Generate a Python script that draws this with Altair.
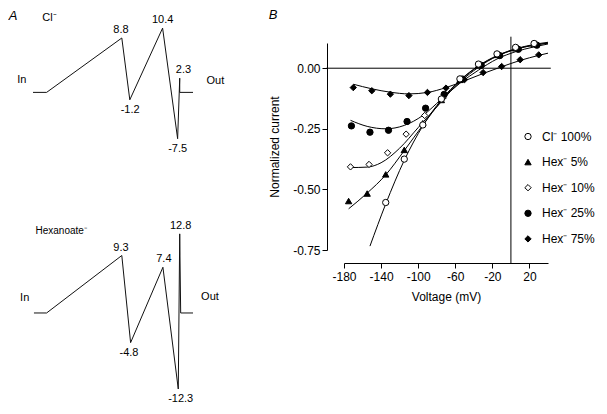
import altair as alt
import pandas as pd

FONT = "Liberation Sans"

# ---------------- Panel A: energy profiles ----------------
a_pos_top = [0, 8.5, 55.5, 60.5, 81, 90.4, 91.7, 91.7, 100]
a_energy_top = [0, 0, 8.8, -1.2, 10.4, -7.5, 2.3, 0, 0]
a_pos_bot = [0.6, 8.5, 55.5, 61, 81.2, 90.8, 91.7, 92.3, 100]
a_energy_bot = [0, 0, 9.3, -4.8, 7.4, -12.3, 12.8, 0, 0]

lbl_text_top = ["8.8", "-1.2", "10.4", "-7.5", "2.3"]
lbl_val_top = [8.8, -1.2, 10.4, -7.5, 2.3]
lbl_pos_top = [55.0, 60.7, 81.0, 90.4, 94.0]
lbl_text_bot = ["9.3", "-4.8", "7.4", "-12.3", "12.8"]
lbl_val_bot = [9.3, -4.8, 7.4, -12.3, 12.8]
lbl_pos_bot = [55.0, 60.0, 81.8, 92.3, 92.3]

ann_text_top = ["Cl⁻", "In", "Out"]
ann_pos_top = [10.3, -7.0, 114.0]
ann_e_top = [12.1, 2.05, 1.78]
ann_text_bot = ["Hexanoate⁻", "In", "Out"]
ann_pos_bot = [17.6, -5.2, 110.6]
ann_e_bot = [13.2, 2.4, 2.6]
panel_a_label = ("A", -12.5, 12.4)

# ---------------- Panel B: I-V data ----------------
series_names = ["Cl⁻ 100%", "Hex⁻ 5%", "Hex⁻ 10%", "Hex⁻ 25%", "Hex⁻ 75%"]

cl_v = [-135, -115, -95, -75, -55, -35, -15, 5, 25]
cl_i = [-0.554, -0.375, -0.234, -0.127, -0.044, 0.017, 0.059, 0.086, 0.102]
hex5_v = [-175, -155, -135, -115, -95, -75, -55, -35, -15, 5, 25]
hex5_i = [-0.548, -0.517, -0.438, -0.337, -0.227, -0.131, -0.048, 0.012, 0.055, 0.082, 0.100]
hex10_v = [-173, -153, -133, -113, -93, -73, -53, -33, -13, 7, 27]
hex10_i = [-0.407, -0.397, -0.349, -0.272, -0.195, -0.122, -0.045, 0.013, 0.055, 0.083, 0.100]
hex25_v = [-172, -152, -132, -112, -92, -72, -52, -32, -12, 8, 28]
hex25_i = [-0.238, -0.264, -0.256, -0.220, -0.165, -0.108, -0.045, 0.012, 0.052, 0.078, 0.095]
hex75_v = [-170, -150, -130, -110, -90, -70, -50, -30, -10, 10, 30]
hex75_i = [-0.080, -0.093, -0.107, -0.113, -0.100, -0.082, -0.047, -0.018, 0.007, 0.035, 0.055]

cl_fit_v = [-152, -135, -115, -95, -75, -55, -35, -15, 5, 25, 40]
cl_fit_i = [-0.734, -0.560, -0.380, -0.238, -0.130, -0.050, 0.010, 0.052, 0.080, 0.098, 0.107]
hex5_fit_v = [-175, -155, -135, -115, -95, -75, -55, -35, -15, 5, 25, 40]
hex5_fit_i = [-0.580, -0.515, -0.440, -0.340, -0.235, -0.135, -0.052, 0.008, 0.050, 0.078, 0.095, 0.104]
hex10_fit_v = [-173, -155, -140, -120, -100, -80, -60, -40, -20, 0, 20, 40]
hex10_fit_i = [-0.410, -0.408, -0.390, -0.330, -0.245, -0.160, -0.075, -0.010, 0.040, 0.073, 0.092, 0.103]
hex25_fit_v = [-173, -155, -135, -115, -95, -75, -55, -35, -15, 5, 25, 40]
hex25_fit_i = [-0.215, -0.240, -0.250, -0.236, -0.195, -0.128, -0.062, -0.008, 0.038, 0.068, 0.088, 0.100]
hex75_fit_v = [-170, -150, -130, -110, -90, -70, -50, -30, -10, 10, 30, 40]
hex75_fit_i = [-0.066, -0.085, -0.099, -0.106, -0.100, -0.080, -0.052, -0.022, 0.006, 0.032, 0.053, 0.062]

x_ticks = [-180, -140, -100, -60, -20, 20]
y_ticks = [-0.75, -0.50, -0.25, 0.00]

# reference lines (zero current, zero voltage)
hline_v, hline_v2, hline_i = -199, 43, 0.0
vline_v, vline_i, vline_i2 = 0.0, -0.806, 0.13

# ---------------- build panel A (one chart, lower profile shifted down) ----------------
A_W, A_H = 224, 355
LOWER_SHIFT = 220.6  # vertical pixel offset of the second profile
xs_a = alt.Scale(domain=[-15, 125], nice=False, zero=False)
ys_a = alt.Scale(domain=[-49.45, 7.99], nice=False, zero=False)


def XA():
    return alt.X("u:Q", scale=xs_a, axis=None)


def YA():
    return alt.Y("e:Q", scale=ys_a, axis=None)


def profile_layers(pos, energy, lbl_text, lbl_val, lbl_pos, ann_text, ann_pos, ann_e, ann_size, shift):
    prof = pd.DataFrame({"u": pos, "e": energy, "k": list(range(len(pos)))})
    line = alt.Chart(prof).mark_line(color="#111", strokeWidth=1, yOffset=shift).encode(
        x=XA(), y=YA(), order="k:Q")
    lbl = pd.DataFrame({"u": lbl_pos, "e": lbl_val, "t": lbl_text})
    up = alt.Chart(lbl).transform_filter("datum.e > 0").mark_text(
        font=FONT, fontSize=11, baseline="bottom", dy=-3, color="black", yOffset=shift
    ).encode(x=XA(), y=YA(), text="t:N")
    down = alt.Chart(lbl).transform_filter("datum.e < 0").mark_text(
        font=FONT, fontSize=11, baseline="top", dy=4, color="black", yOffset=shift
    ).encode(x=XA(), y=YA(), text="t:N")
    ann = pd.DataFrame({"u": ann_pos, "e": ann_e, "t": ann_text})
    name = alt.Chart(ann.iloc[:1]).mark_text(
        font=FONT, fontSize=ann_size, baseline="middle", color="black", yOffset=shift
    ).encode(x=XA(), y=YA(), text="t:N")
    inout = alt.Chart(ann.iloc[1:]).mark_text(
        font=FONT, fontSize=11, baseline="middle", color="black", yOffset=shift
    ).encode(x=XA(), y=YA(), text="t:N")
    return [line, up, down, name, inout]


layers_a = profile_layers(a_pos_top, a_energy_top, lbl_text_top, lbl_val_top, lbl_pos_top,
                          ann_text_top, ann_pos_top, ann_e_top, 11, 0)
layers_a += profile_layers(a_pos_bot, a_energy_bot, lbl_text_bot, lbl_val_bot, lbl_pos_bot,
                           ann_text_bot, ann_pos_bot, ann_e_bot, 10, LOWER_SHIFT)
adf = pd.DataFrame({"t": [panel_a_label[0]], "u": [panel_a_label[1]], "e": [panel_a_label[2]]})
layers_a.append(alt.Chart(adf).mark_text(font=FONT, fontSize=13, fontStyle="italic", color="black",
                                         baseline="middle").encode(x=XA(), y=YA(), text="t:N"))
panel_a = alt.layer(*layers_a).properties(width=A_W, height=A_H)

# ---------------- build panel B ----------------
pts = pd.concat([
    pd.DataFrame({"v": hex5_v, "i": hex5_i, "series": series_names[1], "o": 1}),
    pd.DataFrame({"v": hex10_v, "i": hex10_i, "series": series_names[2], "o": 2}),
    pd.DataFrame({"v": hex25_v, "i": hex25_i, "series": series_names[3], "o": 3}),
    pd.DataFrame({"v": hex75_v, "i": hex75_i, "series": series_names[4], "o": 4}),
    pd.DataFrame({"v": cl_v, "i": cl_i, "series": series_names[0], "o": 5}),
], ignore_index=True)

fits = pd.concat([
    pd.DataFrame({"v": cl_fit_v, "i": cl_fit_i, "series": series_names[0]}),
    pd.DataFrame({"v": hex5_fit_v, "i": hex5_fit_i, "series": series_names[1]}),
    pd.DataFrame({"v": hex10_fit_v, "i": hex10_fit_i, "series": series_names[2]}),
    pd.DataFrame({"v": hex25_fit_v, "i": hex25_fit_i, "series": series_names[3]}),
    pd.DataFrame({"v": hex75_fit_v, "i": hex75_fit_i, "series": series_names[4]}),
], ignore_index=True)

xscale = alt.Scale(domain=[-180, 40], nice=False, zero=False)
yscale = alt.Scale(domain=[-0.75, 0.104], nice=False, zero=False)
common_axis = dict(grid=False, tickSize=5, labelFontSize=12, titleFontSize=12,
                   titleFontWeight="normal", labelFont=FONT, titleFont=FONT, labelOverlap=False,
                   labelFlush=False,
                   domainColor="black", tickColor="black", labelColor="black", titleColor="black",
                   labelExpr="replace(datum.label, '\u2212', '-')")
xaxis = alt.Axis(values=x_ticks, title="Voltage (mV)", offset=13, labelPadding=3, titlePadding=9,
                 **common_axis)
yaxis = alt.Axis(values=y_ticks, format=".2f", title="Normalized current", offset=17,
                 labelPadding=2, titlePadding=11, **common_axis)


def X(field):
    return alt.X(field, type="quantitative", scale=xscale, axis=xaxis)


def Y(field):
    return alt.Y(field, type="quantitative", scale=yscale, axis=yaxis)


hdf = pd.DataFrame({"v": [hline_v], "v2": [hline_v2], "i": [hline_i]})
vdf = pd.DataFrame({"v": [vline_v], "i": [vline_i], "i2": [vline_i2]})
hrule = alt.Chart(hdf).mark_rule(color="black", strokeWidth=1).encode(x=X("v"), x2="v2:Q", y=Y("i"))
vrule = alt.Chart(vdf).mark_rule(color="black", strokeWidth=1).encode(x=X("v"), y=Y("i"), y2="i2:Q")

fit_lines = alt.Chart(fits).mark_line(color="black", strokeWidth=1, interpolate="monotone").encode(
    x=X("v"), y=Y("i"), detail="series:N", order="v:Q"
)

legend = alt.Legend(title=None, orient="none", legendX=513, legendY=87.5, labelFontSize=12,
                    labelFont=FONT, labelColor="black", symbolSize=40, symbolStrokeColor="black",
                    symbolStrokeWidth=1, rowPadding=13.6, labelOffset=8, padding=0)

points = alt.Chart(pts).mark_point(strokeWidth=1, opacity=1, size=40).encode(
    x=X("v"), y=Y("i"),
    shape=alt.Shape("series:N", scale=alt.Scale(domain=series_names,
                    range=["circle", "triangle-up", "diamond", "circle", "diamond"]), legend=legend),
    fill=alt.Fill("series:N", scale=alt.Scale(domain=series_names,
                  range=["white", "black", "white", "black", "black"]), legend=legend),
    stroke=alt.Stroke("series:N", scale=alt.Scale(domain=series_names,
                      range=["black", "black", "black", "black", "black"]), legend=legend),
    order="o:Q",
)

panel_b = alt.layer(hrule, vrule, fit_lines, points).properties(
    width=204, height=207,
    title=alt.TitleParams("B", anchor="start", fontStyle="italic", fontSize=13, font=FONT,
                          fontWeight="normal", color="black", offset=14.5, frame="bounds"),
)

chart = alt.hconcat(panel_a, panel_b, spacing=35).configure(padding=0).configure_view(stroke=None)

chart.save("out.html", embed_options={"renderer": "svg", "actions": False})
